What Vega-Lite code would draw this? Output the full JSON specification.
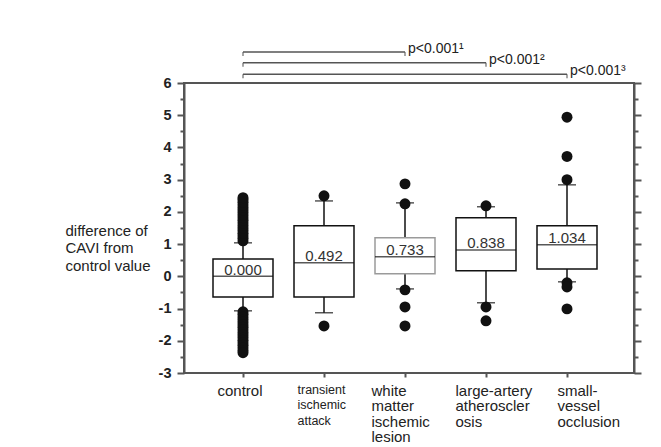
{
  "$schema": "https://vega.github.io/schema/vega-lite/v6.json",
  "width": 450,
  "height": 290,
  "autosize": "none",
  "padding": {"left": 184, "top": 83, "right": 27, "bottom": 74},
  "background": "#ffffff",
  "config": {
    "font": "Liberation Sans",
    "view": {"stroke": "#555555", "strokeWidth": 2},
    "axis": {"domainColor": "#555555", "domainWidth": 2, "tickColor": "#555555", "tickWidth": 2, "grid": false, "labelColor": "#222222", "titleColor": "#222222", "labelOverlap": false, "labelBound": false}
  },
  "datasets": {
    "boxes": [
      {"group": "control", "lo": -1.07, "q1": -0.64, "med": 0.0, "q3": 0.54, "hi": 1.04, "label": "0.000"},
      {"group": "transient ischemic attack", "lo": -1.13, "q1": -0.64, "med": 0.42, "q3": 1.57, "hi": 2.34, "label": "0.492"},
      {"group": "white matter ischemic lesion", "lo": -0.39, "q1": 0.08, "med": 0.61, "q3": 1.2, "hi": 2.28, "label": "0.733"},
      {"group": "large-artery atherosclerosis", "lo": -0.82, "q1": 0.17, "med": 0.82, "q3": 1.82, "hi": 2.16, "label": "0.838"},
      {"group": "small-vessel occlusion", "lo": -0.17, "q1": 0.23, "med": 0.98, "q3": 1.57, "hi": 2.84, "label": "1.034"}
    ],
    "outliers": [
      {"group": "control", "v": 1.1}, {"group": "control", "v": 1.18}, {"group": "control", "v": 1.26}, {"group": "control", "v": 1.34},
      {"group": "control", "v": 1.42}, {"group": "control", "v": 1.5}, {"group": "control", "v": 1.58}, {"group": "control", "v": 1.66},
      {"group": "control", "v": 1.74}, {"group": "control", "v": 1.82}, {"group": "control", "v": 1.9}, {"group": "control", "v": 1.98},
      {"group": "control", "v": 2.06}, {"group": "control", "v": 2.14}, {"group": "control", "v": 2.22}, {"group": "control", "v": 2.3},
      {"group": "control", "v": 2.38}, {"group": "control", "v": 2.44},
      {"group": "control", "v": -1.1}, {"group": "control", "v": -1.18}, {"group": "control", "v": -1.26}, {"group": "control", "v": -1.34},
      {"group": "control", "v": -1.42}, {"group": "control", "v": -1.5}, {"group": "control", "v": -1.58}, {"group": "control", "v": -1.66},
      {"group": "control", "v": -1.74}, {"group": "control", "v": -1.82}, {"group": "control", "v": -1.9}, {"group": "control", "v": -1.98},
      {"group": "control", "v": -2.06}, {"group": "control", "v": -2.14}, {"group": "control", "v": -2.22}, {"group": "control", "v": -2.3},
      {"group": "control", "v": -2.37},
      {"group": "transient ischemic attack", "v": 2.5},
      {"group": "transient ischemic attack", "v": -1.54},
      {"group": "white matter ischemic lesion", "v": 2.87},
      {"group": "white matter ischemic lesion", "v": 2.25},
      {"group": "white matter ischemic lesion", "v": -0.42},
      {"group": "white matter ischemic lesion", "v": -0.95},
      {"group": "white matter ischemic lesion", "v": -1.54},
      {"group": "large-artery atherosclerosis", "v": 2.19},
      {"group": "large-artery atherosclerosis", "v": -0.95},
      {"group": "large-artery atherosclerosis", "v": -1.38},
      {"group": "small-vessel occlusion", "v": 4.94},
      {"group": "small-vessel occlusion", "v": 3.72},
      {"group": "small-vessel occlusion", "v": 3.0},
      {"group": "small-vessel occlusion", "v": -0.2},
      {"group": "small-vessel occlusion", "v": -0.33},
      {"group": "small-vessel occlusion", "v": -1.01}
    ],
    "brackets": [
      {"from": "control", "to": "white matter ischemic lesion", "lev": 6.96, "p": "p<0.001¹"},
      {"from": "control", "to": "large-artery atherosclerosis", "lev": 6.63, "p": "p<0.001²"},
      {"from": "control", "to": "small-vessel occlusion", "lev": 6.27, "p": "p<0.001³"}
    ]
  },
  "resolve": {"axis": {"y": "independent"}},
  "layer": [
    {
      "mark": {"type": "rule", "opacity": 0},
      "encoding": {
        "y": {
          "datum": 0, "type": "quantitative",
          "scale": {"domain": [-3, 6], "nice": false, "zero": false},
          "axis": {
            "orient": "left",
            "title": ["difference of", "CAVI from", "control value"],
            "titleAngle": 0, "titleAlign": "left", "titleBaseline": "top", "titleX": -119, "titleY": 140,
            "titleFontSize": 15, "titleFontWeight": "normal", "titleLineHeight": 17.5,
            "values": [-3, -2.5, -2, -1.5, -1, -0.5, 0, 0.5, 1, 1.5, 2, 2.5, 3, 3.5, 4, 4.5, 5, 5.5, 6],
            "labelExpr": "'' + datum.value",
            "labelOpacity": {"condition": {"test": "datum.value % 1 !== 0", "value": 0}, "value": 1},
            "labelFontWeight": "bold", "labelFontSize": 14.5, "labelPadding": 6,
            "tickSize": {"condition": {"test": "datum.value % 1 !== 0", "value": 4}, "value": 7}
          }
        }
      }
    },
    {
      "mark": {"type": "rule", "opacity": 0},
      "encoding": {
        "y": {
          "datum": 0, "type": "quantitative",
          "axis": {
            "orient": "right", "title": null, "labels": false,
            "values": [-3, -2.5, -2, -1.5, -1, -0.5, 0, 0.5, 1, 1.5, 2, 2.5, 3, 3.5, 4, 4.5, 5, 5.5, 6],
            "tickSize": {"condition": {"test": "datum.value % 1 !== 0", "value": 4}, "value": 7}
          }
        }
      }
    },
    {
      "layer": [
        {
          "data": {"name": "boxes"},
          "mark": {"type": "rule", "color": "#111111", "strokeWidth": 1.5},
          "encoding": {
            "x": {
              "field": "group", "type": "nominal",
              "scale": {"type": "point", "padding": 0, "domain": ["control", "transient ischemic attack", "white matter ischemic lesion", "large-artery atherosclerosis", "small-vessel occlusion"], "range": [59, 383]},
              "axis": {
                "title": null, "orient": "bottom", "domain": false, "tickSize": 4, "labelAngle": 0,
                "labelAlign": "left", "labelBaseline": "top", "labelPadding": 6, "labelLineHeight": 15.5,
                "labelColor": "#222222",
                "labelOffset": {"condition": [
                  {"test": "datum.value === 'control'", "value": -26},
                  {"test": "datum.value === 'transient ischemic attack'", "value": -27},
                  {"test": "datum.value === 'white matter ischemic lesion'", "value": -34},
                  {"test": "datum.value === 'large-artery atherosclerosis'", "value": -31}
                ], "value": -10},
                "labelExpr": "datum.value === 'transient ischemic attack' ? ['transient','ischemic','attack'] : datum.value === 'white matter ischemic lesion' ? ['white','matter','ischemic','lesion'] : datum.value === 'large-artery atherosclerosis' ? ['large-artery','atheroscler','osis'] : datum.value === 'small-vessel occlusion' ? ['small-','vessel','occlusion'] : datum.label",
                "labelFontSize": {"condition": {"test": "datum.value === 'transient ischemic attack'", "value": 12.5}, "value": 15}
              }
            },
            "y": {"field": "lo", "type": "quantitative", "axis": null},
            "y2": {"field": "hi"}
          }
        },
        {
          "data": {"name": "boxes"},
          "mark": {"type": "bar", "size": 60, "fill": "#ffffff", "strokeWidth": 1.5},
          "encoding": {
            "x": {"field": "group", "type": "nominal"},
            "y": {"field": "q1", "type": "quantitative", "axis": null},
            "y2": {"field": "q3"},
            "stroke": {"condition": {"test": "datum.group === 'white matter ischemic lesion'", "value": "#9a9a9a"}, "value": "#111111"}
          }
        },
        {
          "mark": {"type": "rule", "color": "#111111", "strokeWidth": 1.5, "strokeDash": [5, 4]},
          "encoding": {"y": {"datum": 0, "axis": null}}
        },
        {
          "data": {"name": "boxes"},
          "mark": {"type": "tick", "orient": "horizontal", "size": 60, "thickness": 1.5, "color": "#111111"},
          "encoding": {
            "x": {"field": "group", "type": "nominal"},
            "y": {"field": "med", "type": "quantitative", "axis": null}
          }
        },
        {
          "data": {"name": "boxes"},
          "mark": {"type": "tick", "orient": "horizontal", "size": 18, "thickness": 1.5, "color": "#111111"},
          "encoding": {
            "x": {"field": "group", "type": "nominal"},
            "y": {"field": "hi", "type": "quantitative", "axis": null}
          }
        },
        {
          "data": {"name": "boxes"},
          "mark": {"type": "tick", "orient": "horizontal", "size": 18, "thickness": 1.5, "color": "#111111"},
          "encoding": {
            "x": {"field": "group", "type": "nominal"},
            "y": {"field": "lo", "type": "quantitative", "axis": null}
          }
        },
        {
          "data": {"name": "outliers"},
          "mark": {"type": "circle", "size": 120, "color": "#111111", "opacity": 1},
          "encoding": {
            "x": {"field": "group", "type": "nominal"},
            "y": {"field": "v", "type": "quantitative", "axis": null}
          }
        },
        {
          "data": {"name": "boxes"},
          "mark": {"type": "text", "fontSize": 15, "color": "#333333", "baseline": "bottom", "dy": 1.5},
          "encoding": {
            "x": {"field": "group", "type": "nominal"},
            "y": {"field": "med", "type": "quantitative", "axis": null},
            "text": {"field": "label"}
          }
        },
        {
          "data": {"name": "brackets"},
          "mark": {"type": "rule", "color": "#555555", "strokeWidth": 1.5},
          "encoding": {
            "x": {"field": "from", "type": "nominal"},
            "x2": {"field": "to"},
            "y": {"field": "lev", "type": "quantitative", "axis": null}
          }
        },
        {
          "data": {"name": "brackets"},
          "mark": {"type": "tick", "orient": "vertical", "size": 4, "thickness": 1.5, "color": "#555555", "yOffset": 2},
          "encoding": {
            "x": {"field": "from", "type": "nominal"},
            "y": {"field": "lev", "type": "quantitative", "axis": null}
          }
        },
        {
          "data": {"name": "brackets"},
          "mark": {"type": "tick", "orient": "vertical", "size": 4, "thickness": 1.5, "color": "#555555", "yOffset": 2},
          "encoding": {
            "x": {"field": "to", "type": "nominal"},
            "y": {"field": "lev", "type": "quantitative", "axis": null}
          }
        },
        {
          "data": {"name": "brackets"},
          "mark": {"type": "text", "fontSize": 14, "color": "#222222", "align": "left", "baseline": "middle", "dx": 3, "dy": -3},
          "encoding": {
            "x": {"field": "to", "type": "nominal"},
            "y": {"field": "lev", "type": "quantitative", "axis": null},
            "text": {"field": "p"}
          }
        }
      ]
    }
  ]
}
